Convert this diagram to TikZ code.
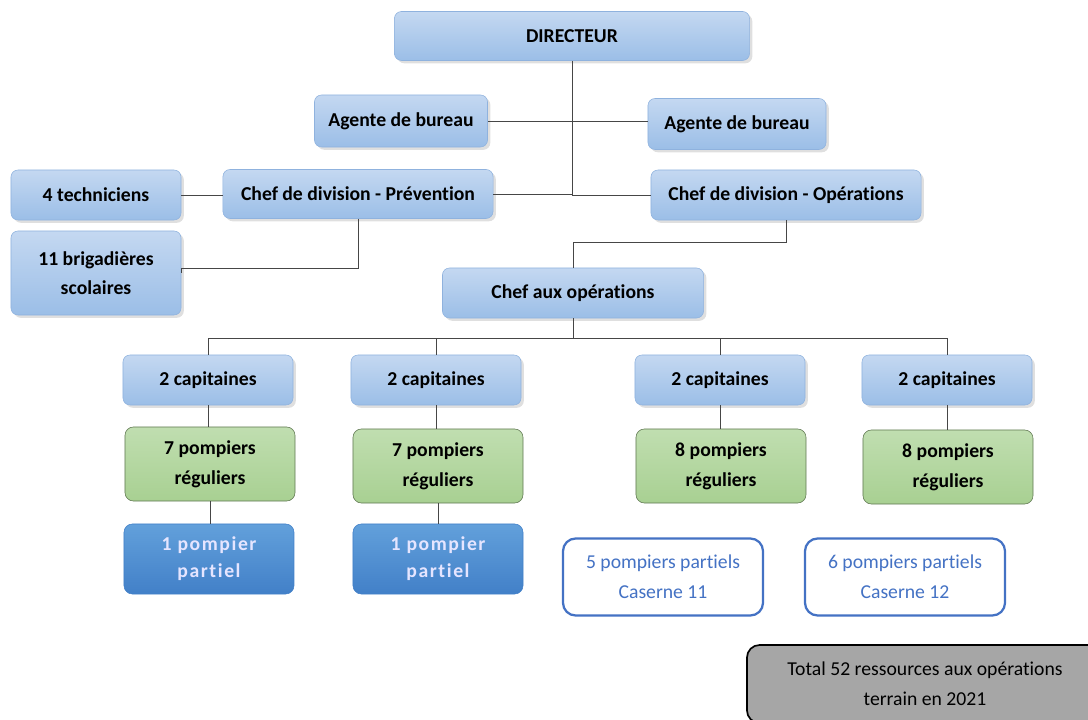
\documentclass[tikz,border=0pt]{standalone}
\usepackage{fontspec}
\setmainfont{Carlito}[Ligatures=NoCommon]
\usetikzlibrary{shadows}

\definecolor{bxtop}{RGB}{196,216,241}
\definecolor{bxbot}{RGB}{155,190,231}
\definecolor{bxline}{RGB}{143,178,222}
\definecolor{grtop}{RGB}{192,222,176}
\definecolor{grbot}{RGB}{168,208,146}
\definecolor{grline}{RGB}{96,120,82}
\definecolor{dktop}{RGB}{98,160,219}
\definecolor{dkbot}{RGB}{66,128,200}
\definecolor{ptblue}{RGB}{68,114,196}
\definecolor{lngray}{RGB}{70,70,70}

\begin{document}
\begin{tikzpicture}[x=0.025cm,y=-0.025cm,
  font=\fontsize{14}{21}\selectfont,
  bluebox/.style={draw=bxline, rounded corners=5pt, top color=bxtop, bottom color=bxbot,
    font=\fontsize{14}{21}\selectfont\bfseries, align=center,
    drop shadow={shadow xshift=2pt, shadow yshift=-2pt, opacity=0.25}},
  greenbox/.style={draw=grline, rounded corners=6pt, top color=grtop, bottom color=grbot,
    font=\fontsize{14}{21}\selectfont\bfseries, align=center,
    minimum width=4.25cm, minimum height=1.85cm},
  darkbox/.style={draw=dkbot, rounded corners=6pt, top color=dktop, bottom color=dkbot,
    text=white!90!blue, font=\fontsize{14}{19}\selectfont\bfseries\addfontfeatures{LetterSpace=8},
    align=center, minimum width=4.25cm, minimum height=1.75cm},
  partbox/.style={draw=ptblue, line width=1.6pt, fill=white, rounded corners=9pt,
    text=ptblue, align=center, minimum width=5cm, minimum height=1.925cm},
  link/.style={draw=lngray, line width=0.5pt}]

\useasboundingbox (0,0) rectangle (1088,720);

% direction
\node [bluebox, minimum width=8.875cm, minimum height=1.225cm] (dir) at (572,36) {DIRECTEUR};
\node [bluebox, minimum width=4.325cm, minimum height=1.3cm] (agl) at (401,121) {Agente de bureau};
\node [bluebox, minimum width=4.45cm, minimum height=1.275cm] (agr) at (737,124) {Agente de bureau};

% divisions
\node [bluebox, minimum width=6.75cm, minimum height=1.225cm] (prev) at (358,194) {Chef de division - Prévention};
\node [bluebox, minimum width=6.75cm, minimum height=1.25cm] (ops) at (786,195) {Chef de division - Opérations};
\node [bluebox, minimum width=4.25cm, minimum height=1.25cm] (tech) at (96,195) {4 techniciens};
\node [bluebox, minimum width=4.25cm, minimum height=2.1cm] (brig) at (96,273) {11 brigadières\\scolaires};
\node [bluebox, minimum width=6.525cm, minimum height=1.25cm] (chef) at (573,293) {Chef aux opérations};

% equipes
\foreach \i/\x in {1/208,2/436,3/720,4/947}
  \node [bluebox, minimum width=4.25cm, minimum height=1.25cm] (cap\i) at (\x,380) {2 capitaines};

\node [greenbox] (pomp1) at (210,464) {7 pompiers\\réguliers};
\node [greenbox] (pomp2) at (438,466) {7 pompiers\\réguliers};
\node [greenbox] (pomp3) at (721,466) {8 pompiers\\réguliers};
\node [greenbox] (pomp4) at (948,467) {8 pompiers\\réguliers};

\node [darkbox] (part1) at (209,559) {1 pompier\\partiel};
\node [darkbox] (part2) at (438,559) {1 pompier\\partiel};

\node [partbox] (cas11) at (663,577) {5 pompiers partiels\\Caserne 11};
\node [partbox] (cas12) at (905,577) {6 pompiers partiels\\Caserne 12};

\node [draw=black, line width=1.2pt, fill=black!35, rounded corners=9pt, align=center,
  minimum width=8.9cm, minimum height=1.95cm] (total) at (925,684)
  {Total 52 ressources aux opérations\\terrain en 2021};

% liens
\draw [link] (dir.south) -- (dir.south |- ops.west) -- (ops.west);
\draw [link] (prev.east) -- (prev.east -| dir.south);
\draw [link] (agl.east) -- (agl.east -| agr.west);
\draw [link] (tech.east) -- (tech.east -| prev.west);
\draw [link] (prev.south) -- ++(0,50) -| (brig.east);
\draw [link] (ops.south) -- ++(0,22) -| (chef.north);
\draw [link] (chef.south) -- ++(0,20) coordinate (bus);
\foreach \i in {1,...,4} {
  \draw [link] (cap\i.north) |- (bus);
  \draw [link] (cap\i.south) -- (cap\i.south |- pomp\i.north);
}
\foreach \i in {1,2}
  \draw [link] (pomp\i.south) -- (pomp\i.south |- part\i.north);

\end{tikzpicture}
\end{document}
